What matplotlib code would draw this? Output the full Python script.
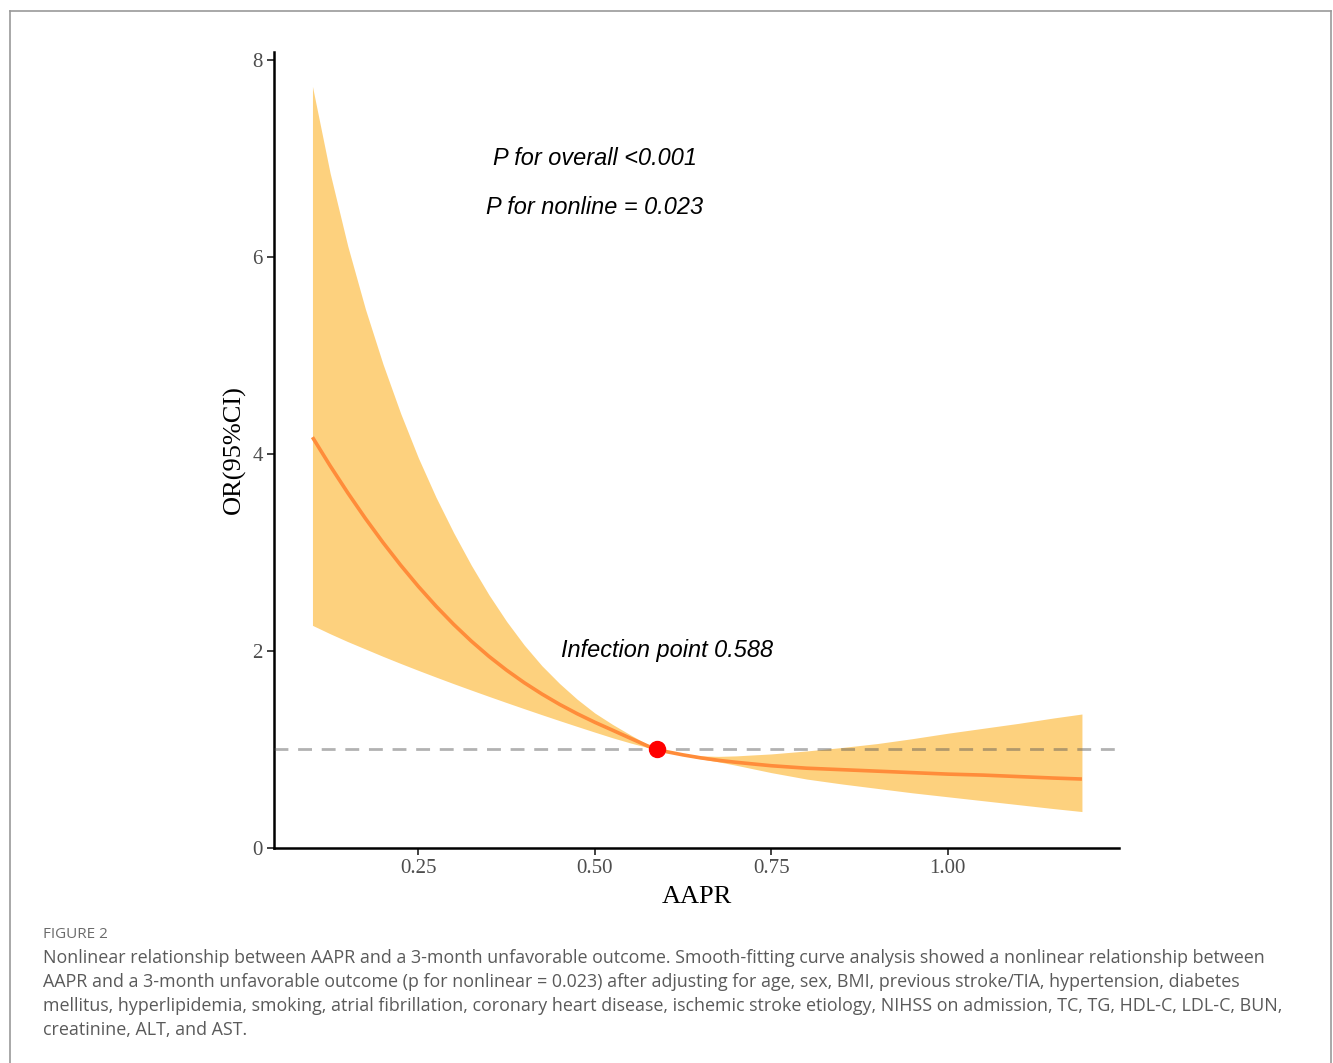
import matplotlib
matplotlib.use("Agg")
import matplotlib.pyplot as plt
from matplotlib.lines import Line2D

# AAPR values and odds ratios
aapr = [0.100, 0.125, 0.150, 0.175, 0.200, 0.225, 0.250, 0.275, 0.300, 0.325,
        0.350, 0.375, 0.400, 0.425, 0.450, 0.475, 0.500, 0.525, 0.550, 0.575,
        0.588, 0.600, 0.625, 0.650, 0.675, 0.700, 0.750, 0.800, 0.850, 0.900,
        0.950, 1.000, 1.050, 1.100, 1.150, 1.190]
or_est = [4.17, 3.88, 3.605, 3.345, 3.10, 2.87, 2.655, 2.455, 2.27, 2.10,
          1.945, 1.805, 1.678, 1.563, 1.458, 1.363, 1.276, 1.196, 1.115, 1.035,
          1.00, 0.980, 0.945, 0.915, 0.89, 0.87, 0.835, 0.81, 0.795, 0.78,
          0.765, 0.75, 0.74, 0.725, 0.71, 0.70]
or_upper = [7.73, 6.85, 6.11, 5.47, 4.91, 4.41, 3.96, 3.56, 3.20, 2.87,
            2.57, 2.30, 2.06, 1.85, 1.67, 1.51, 1.37, 1.255, 1.15, 1.05,
            1.00, 0.985, 0.955, 0.935, 0.93, 0.935, 0.955, 0.985, 1.02, 1.06,
            1.11, 1.165, 1.215, 1.265, 1.32, 1.36]
or_lower = [2.26, 2.175, 2.095, 2.02, 1.945, 1.873, 1.803, 1.735, 1.668, 1.603,
            1.539, 1.476, 1.414, 1.353, 1.293, 1.234, 1.176, 1.119, 1.067, 1.02,
            1.00, 0.975, 0.94, 0.905, 0.875, 0.84, 0.765, 0.70, 0.65, 0.605,
            0.56, 0.52, 0.48, 0.44, 0.40, 0.37]
knot_x = 0.588
knot_y = 1.0
x_ticks = [0.25, 0.50, 0.75, 1.00]
x_tick_labels = ["0.25", "0.50", "0.75", "1.00"]
y_ticks = [0, 2, 4, 6, 8]

caption_title = "FIGURE 2"
caption_lines = [
    "Nonlinear relationship between AAPR and a 3-month unfavorable outcome. Smooth-fitting curve analysis showed a nonlinear relationship between",
    "AAPR and a 3-month unfavorable outcome (p for nonlinear = 0.023) after adjusting for age, sex, BMI, previous stroke/TIA, hypertension, diabetes",
    "mellitus, hyperlipidemia, smoking, atrial fibrillation, coronary heart disease, ischemic stroke etiology, NIHSS on admission, TC, TG, HDL-C, LDL-C, BUN,",
    "creatinine, ALT, and AST.",
]

W, H = 1333, 1063
fig = plt.figure(figsize=(W / 100, H / 100), dpi=100)

# page frame (open at the bottom)
fx = lambda px: px / W
fy = lambda py: 1 - py / H
fig.add_artist(Line2D([fx(10), fx(10)], [fy(11), 0], color="#9a9a9a", lw=1.2))
fig.add_artist(Line2D([fx(10), fx(1331)], [fy(11), fy(11)], color="#9a9a9a", lw=1.2))
fig.add_artist(Line2D([fx(1331), fx(1331)], [fy(11), 0], color="#9a9a9a", lw=1.2))

ax = fig.add_axes([274 / W, 1 - 848 / H, (1119 - 274) / W, (848 - 52) / H])

ax.fill_between(aapr, or_lower, or_upper, color="#FDD17E", linewidth=0, zorder=1)
ax.plot(aapr, or_est, color="#FF8C3A", lw=2.6, zorder=2, solid_capstyle="butt",
        solid_joinstyle="round")
ax.axhline(1, color="#555555", alpha=0.45, lw=2.0, ls=(0, (5, 3.5)), zorder=3)
ax.plot([knot_x], [knot_y], "o", color="#FF0000", markersize=11.5, zorder=4)

ax.text(0.50, 7.0, "P for overall <0.001", ha="center", va="center",
        fontsize=16.9, style="italic", family="Liberation Sans")
ax.text(0.50, 6.5, "P for nonline = 0.023", ha="center", va="center",
        fontsize=16.9, style="italic", family="Liberation Sans")
ax.text(0.602, 2.0, "Infection point 0.588", ha="center", va="center",
        fontsize=16.9, style="italic", family="Liberation Sans")

ax.set_xlim(0.0455, 1.2425)
ax.set_ylim(0, 8.08)
ax.set_xticks(x_ticks)
ax.set_xticklabels(x_tick_labels)
ax.set_yticks(y_ticks)
for s in ["top", "right"]:
    ax.spines[s].set_visible(False)
for s in ["left", "bottom"]:
    ax.spines[s].set_linewidth(1.8)
    ax.spines[s].set_color("black")
ax.tick_params(length=5, width=1.3, color="#333333", labelcolor="#4d4d4d",
               labelsize=15, pad=3)
for lab in ax.get_xticklabels() + ax.get_yticklabels():
    lab.set_family("Liberation Serif")
ax.set_xlabel("AAPR", fontsize=19, family="Liberation Serif", labelpad=6)
ax.set_ylabel("OR(95%CI)", fontsize=19, family="Liberation Serif", labelpad=5)

fig.text(43 / W, fy(935), caption_title, fontsize=11, color="#6b6b6b",
         family="Open Sans", va="center", fontstretch="semi-condensed")
for i, line in enumerate(caption_lines):
    fig.text(43 / W, fy(958 + 24 * i), line, fontsize=12.9, color="#5a5a5a",
             family="Open Sans", va="center")

fig.savefig("out.png", dpi=100)
